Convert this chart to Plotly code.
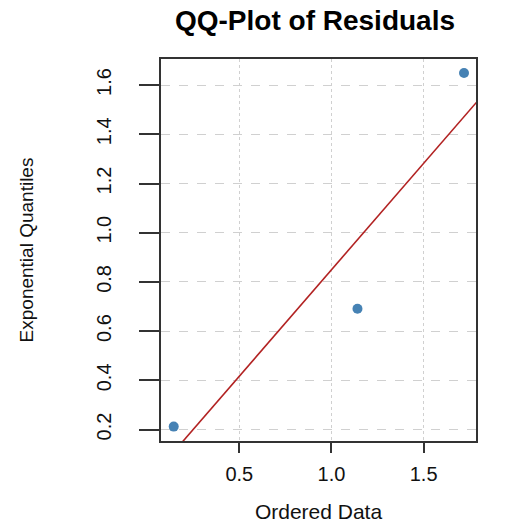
import numpy as np
import plotly.graph_objects as go

# Data
ordered_data = [0.144, 1.141, 1.719]
exp_quantiles = [0.212, 0.691, 1.649]

x_ticks = [0.5, 1.0, 1.5]
x_tick_labels = ["0.5", "1.0", "1.5"]
y_ticks = [0.2, 0.4, 0.6, 0.8, 1.0, 1.2, 1.4, 1.6]
y_tick_labels = ["0.2", "0.4", "0.6", "0.8", "1.0", "1.2", "1.4", "1.6"]

x_range = [0.075, 1.784]
y_range = [0.1535, 1.706]

# Regression reference line
slope, intercept = np.polyfit(ordered_data, exp_quantiles, 1)
line_x = np.array([0.0, 2.0])
line_y = intercept + slope * line_x

FONT = "Liberation Sans, Arial, Helvetica, sans-serif"

fig = go.Figure()
fig.add_trace(go.Scatter(
    x=line_x, y=line_y, mode="lines",
    line=dict(color="#B22222", width=1.6),
    hoverinfo="skip", showlegend=False,
))
fig.add_trace(go.Scatter(
    x=ordered_data, y=exp_quantiles, mode="markers",
    marker=dict(color="#4682B4", size=10, symbol="circle"),
    showlegend=False,
))

fig.update_layout(
    width=509, height=523,
    margin=dict(l=161, r=33, t=59, b=82),
    paper_bgcolor="white", plot_bgcolor="white",
    font=dict(family=FONT, color="#111"),
    title=dict(
        text="<b>QQ-Plot of Residuals</b>",
        x=315 / 509, xref="container", xanchor="center",
        y=1 - 20 / 523, yref="container", yanchor="middle",
        font=dict(family=FONT, size=28, color="#000"),
    ),
    showlegend=False,
)

fig.update_xaxes(
    range=x_range, automargin=False,
    tickmode="array", tickvals=x_ticks, ticktext=x_tick_labels,
    ticks="outside", ticklen=10, tickwidth=2, tickcolor="#333",
    ticklabelstandoff=4,
    tickfont=dict(size=20, color="#111"),
    showline=True, linecolor="#333", linewidth=2, mirror=True,
    showgrid=True, gridcolor="#d0d0d0", gridwidth=1, griddash="dot",
    zeroline=False,
    title=dict(text="Ordered Data", font=dict(size=21, color="#111"), standoff=20),
)
fig.update_yaxes(
    range=y_range, automargin=False,
    tickmode="array", tickvals=y_ticks, ticktext=y_tick_labels,
    ticks="outside", ticklen=20, tickwidth=2, tickcolor="#333",
    tickangle=-90, ticklabelstandoff=20,
    tickfont=dict(size=20, color="#111"),
    showline=True, linecolor="#333", linewidth=2, mirror=True,
    showgrid=True, gridcolor="#d0d0d0", gridwidth=1, griddash="dash",
    zeroline=False,
    title=dict(text="Exponential Quantiles", font=dict(size=19, color="#111"), standoff=54),
)

fig.write_html("out.html")
